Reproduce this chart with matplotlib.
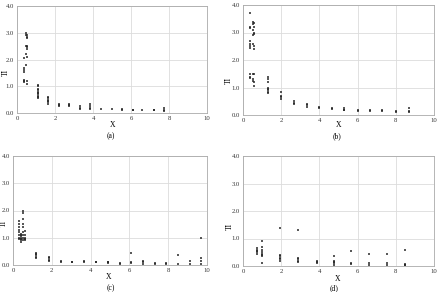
import matplotlib.pyplot as plt

plt.rcParams['font.family'] = ['Liberation Serif', 'DejaVu Serif']

# panel (a): x positions and the TI values at each
a_x = [0.35, 0.45, 0.55, 1.1, 1.65, 2.2, 2.75, 3.3, 3.85, 4.4, 5.0, 5.5, 6.1, 6.6, 7.2, 7.75]
a_y = [[1.15, 1.2, 1.25, 1.55, 1.6, 1.7, 2.05],
       [1.8, 2.2, 2.5, 2.9, 3.0],
       [2.8, 2.85, 2.9, 2.4, 2.45, 2.5, 2.1, 1.2, 1.1],
       [0.55, 0.6, 0.65, 0.7, 0.75, 0.8, 0.85, 0.9, 1.0, 1.05],
       [0.35, 0.4, 0.45, 0.5, 0.55, 0.6],
       [0.25, 0.3, 0.35],
       [0.25, 0.3, 0.35],
       [0.15, 0.2, 0.25],
       [0.15, 0.2, 0.25, 0.35],
       [0.15],
       [0.15],
       [0.13, 0.15],
       [0.1, 0.12],
       [0.1],
       [0.1, 0.12],
       [0.08, 0.1, 0.2]]

# panel (b)
b_x = [0.35, 0.5, 0.6, 1.3, 2.0, 2.65, 3.35, 4.0, 4.65, 5.3, 6.0, 6.65, 7.3, 8.0, 8.7]
b_y = [[3.7, 3.15, 3.2, 2.7, 2.6, 2.5, 2.45, 1.5, 1.4, 1.35],
       [3.4, 3.3, 3.1, 2.9, 2.6, 1.5, 1.3, 1.25],
       [3.35, 3.2, 3.0, 2.95, 2.5, 2.4, 1.5, 1.2, 1.05],
       [1.4, 1.3, 1.2, 1.0, 0.95, 0.9, 0.85, 0.8],
       [0.85, 0.7, 0.65, 0.6],
       [0.5, 0.45, 0.4],
       [0.4, 0.35, 0.3],
       [0.3, 0.25],
       [0.25, 0.22],
       [0.25, 0.2, 0.18],
       [0.18, 0.15],
       [0.2, 0.15],
       [0.18, 0.15],
       [0.15, 0.12],
       [0.25, 0.15, 0.1]]

# panel (c)
c_x = [0.3, 0.4, 0.5, 0.6, 1.2, 1.85, 2.45, 3.05, 3.65, 4.3, 4.9, 5.5, 6.1, 6.7, 7.3, 7.9, 8.5, 9.1, 9.7]
c_y = [[1.6, 1.5, 1.4, 1.3, 1.2, 1.1, 1.0, 0.95],
       [1.15, 1.1, 1.05, 1.0, 0.95, 0.9, 0.85],
       [2.0, 1.9, 1.7, 1.5, 1.4, 1.2, 1.1, 1.0, 0.9],
       [1.25, 1.1, 1.0, 0.95, 0.9],
       [0.45, 0.4, 0.35, 0.3, 0.25],
       [0.3, 0.25, 0.2, 0.15],
       [0.15, 0.12],
       [0.12, 0.1],
       [0.15, 0.1],
       [0.12, 0.1],
       [0.12, 0.1, 0.08],
       [0.08, 0.05],
       [0.45, 0.1, 0.08],
       [0.15, 0.1, 0.05],
       [0.08, 0.05],
       [0.08, 0.05],
       [0.35, 0.05],
       [0.15, 0.05],
       [0.98, 0.25, 0.15, 0.05]]

# panel (d)
d_x = [0.75, 1.0, 1.95, 2.9, 3.85, 4.75, 5.65, 6.6, 7.55, 8.5]
d_y = [[0.65, 0.6, 0.55, 0.5, 0.45],
       [0.9, 0.7, 0.6, 0.5, 0.45, 0.4, 0.35, 0.1],
       [1.4, 0.4, 0.35, 0.3, 0.25, 0.2],
       [1.3, 0.3, 0.25, 0.2, 0.15],
       [0.2, 0.15, 0.12],
       [0.35, 0.2, 0.15, 0.1, 0.05],
       [0.55, 0.1, 0.08],
       [0.45, 0.1, 0.05],
       [0.45, 0.1, 0.05],
       [0.6, 0.08, 0.05, 0.02]]

panels = [('(a)', a_x, a_y), ('(b)', b_x, b_y), ('(c)', c_x, c_y), ('(d)', d_x, d_y)]

W, H = 441.0, 292.0
# axes boxes in pixels: left, top, right, bottom
boxes_px = [(17, 6, 207, 113), (243, 5, 434, 115), (13, 156, 207, 265), (243, 156, 434, 266)]
# label spots in pixels: X label, TI label, caption
xlab_px = [(113, 125), (339, 125), (109, 277), (338, 279)]
ylab_px = [(6, 72), (229, 80), (4, 223), (230, 226)]
cap_px = [(111, 136), (337, 136), (111, 288), (334, 288)]

fig = plt.figure(figsize=(4.41, 2.92), dpi=100)
for i, (name, xs, ys) in enumerate(panels):
    l, t, r, b = boxes_px[i]
    ax = fig.add_axes([l / W, 1 - b / H, (r - l) / W, (b - t) / H])
    px, py = [], []
    for x, vals in zip(xs, ys):
        for v in vals:
            px.append(x)
            py.append(v)
    ax.scatter(px, py, s=2.5, marker='s', color='#222222', alpha=0.75, linewidths=0, zorder=3)
    ax.set_xlim(0, 10)
    ax.set_ylim(0, 4)
    ax.set_xticks([0, 2, 4, 6, 8, 10])
    ax.set_yticks([0, 1, 2, 3, 4])
    ax.set_yticklabels(['0.0', '1.0', '2.0', '3.0', '4.0'])
    ax.grid(True, color='#dcdcdc', linewidth=0.6)
    ax.set_axisbelow(True)
    for s in ax.spines.values():
        s.set_color('#aaaaaa')
        s.set_linewidth(0.6)
    ax.tick_params(labelsize=4.8, length=0, pad=2, colors='#333333')
    x0, y0 = xlab_px[i]
    fig.text(x0 / W, 1 - y0 / H, 'X', fontsize=5.5, ha='center', va='center')
    x0, y0 = ylab_px[i]
    fig.text(x0 / W, 1 - y0 / H, 'TI', fontsize=5.5, ha='center', va='center', rotation=90)
    x0, y0 = cap_px[i]
    fig.text(x0 / W, 1 - y0 / H, name, fontsize=5.5, ha='center', va='center')

fig.savefig('out.png', dpi=100)
